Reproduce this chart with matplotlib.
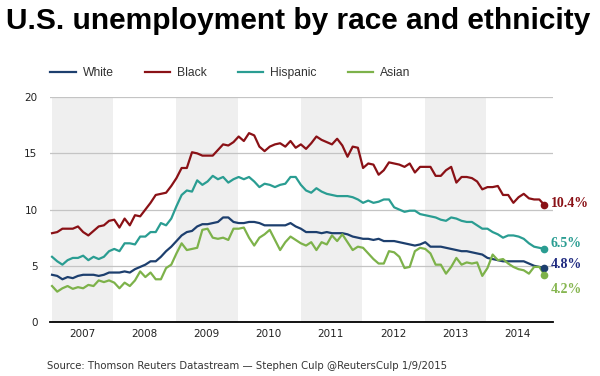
import numpy as np
import matplotlib
matplotlib.use("Agg")
import matplotlib.pyplot as plt

# monthly unemployment rate (%), Jan 2007 - Dec 2014
years = [2007, 2008, 2009, 2010, 2011, 2012, 2013, 2014]

white = [4.2, 4.1, 3.8, 4.0, 3.9, 4.1, 4.2, 4.2, 4.2, 4.1, 4.2, 4.4,
         4.4, 4.4, 4.5, 4.4, 4.7, 4.9, 5.1, 5.4, 5.4, 5.8, 6.3, 6.7,
         7.2, 7.7, 8.0, 8.1, 8.5, 8.7, 8.7, 8.8, 8.9, 9.3, 9.3, 8.9,
         8.8, 8.8, 8.9, 8.9, 8.8, 8.6, 8.6, 8.6, 8.6, 8.6, 8.8, 8.5,
         8.3, 8.0, 8.0, 8.0, 7.9, 8.0, 7.9, 7.9, 7.9, 7.8, 7.6, 7.5,
         7.4, 7.4, 7.3, 7.4, 7.2, 7.2, 7.2, 7.1, 7.0, 6.9, 6.8, 6.9,
         7.1, 6.7, 6.7, 6.7, 6.6, 6.5, 6.4, 6.3, 6.3, 6.2, 6.1, 6.0,
         5.7, 5.6, 5.5, 5.4, 5.4, 5.4, 5.4, 5.4, 5.2, 5.0, 4.9, 4.8]

black = [7.9, 8.0, 8.3, 8.3, 8.3, 8.5, 8.0, 7.7, 8.1, 8.5, 8.6, 9.0,
         9.1, 8.4, 9.2, 8.6, 9.5, 9.4, 10.0, 10.6, 11.3, 11.4, 11.5, 12.1,
         12.8, 13.7, 13.7, 15.1, 15.0, 14.8, 14.8, 14.8, 15.3, 15.8, 15.7, 16.0,
         16.5, 16.1, 16.8, 16.6, 15.6, 15.2, 15.6, 15.8, 15.9, 15.6, 16.1, 15.5,
         15.8, 15.4, 15.9, 16.5, 16.2, 16.0, 15.8, 16.3, 15.7, 14.7, 15.6, 15.5,
         13.7, 14.1, 14.0, 13.1, 13.5, 14.2, 14.1, 14.0, 13.8, 14.1, 13.3, 13.8,
         13.8, 13.8, 13.0, 13.0, 13.5, 13.8, 12.4, 12.9, 12.9, 12.8, 12.5, 11.8,
         12.0, 12.0, 12.1, 11.3, 11.3, 10.6, 11.1, 11.4, 11.0, 10.9, 10.9, 10.4]

hispanic = [5.8, 5.4, 5.1, 5.5, 5.7, 5.7, 5.9, 5.5, 5.8, 5.6, 5.8, 6.3,
            6.5, 6.3, 7.0, 7.0, 6.9, 7.6, 7.6, 8.0, 8.0, 8.8, 8.6, 9.2,
            10.3, 11.3, 11.7, 11.6, 12.6, 12.2, 12.5, 13.0, 12.7, 12.9, 12.4, 12.7,
            12.9, 12.7, 12.9, 12.5, 12.0, 12.3, 12.2, 12.0, 12.2, 12.3, 12.9, 12.9,
            12.2, 11.7, 11.5, 11.9, 11.6, 11.4, 11.3, 11.2, 11.2, 11.2, 11.1, 10.9,
            10.6, 10.8, 10.6, 10.7, 10.9, 10.9, 10.2, 10.0, 9.8, 9.9, 9.9, 9.6,
            9.5, 9.4, 9.3, 9.1, 9.0, 9.3, 9.2, 9.0, 8.9, 8.9, 8.6, 8.3,
            8.3, 8.0, 7.8, 7.5, 7.7, 7.7, 7.6, 7.4, 7.0, 6.7, 6.6, 6.5]

asian = [3.2, 2.7, 3.0, 3.2, 2.95, 3.1, 3.0, 3.3, 3.2, 3.7, 3.55, 3.7,
         3.5, 3.0, 3.5, 3.2, 3.7, 4.5, 4.0, 4.4, 3.8, 3.8, 4.8, 5.1,
         6.1, 7.0, 6.4, 6.5, 6.6, 8.2, 8.3, 7.5, 7.4, 7.5, 7.3, 8.3,
         8.3, 8.4, 7.5, 6.8, 7.5, 7.8, 8.2, 7.3, 6.4, 7.1, 7.6, 7.3,
         7.0, 6.8, 7.1, 6.4, 7.1, 6.9, 7.7, 7.2, 7.8, 7.1, 6.4, 6.7,
         6.6, 6.1, 5.6, 5.2, 5.2, 6.3, 6.2, 5.8, 4.8, 4.9, 6.3, 6.6,
         6.5, 6.1, 5.1, 5.1, 4.3, 4.9, 5.7, 5.1, 5.3, 5.2, 5.3, 4.1,
         4.8, 6.0, 5.5, 5.6, 5.2, 4.9, 4.7, 4.6, 4.3, 4.9, 4.9, 4.2]

series = [
    ("White", white, "#1d3f6e", "#1f2a80", 5.1),
    ("Black", black, "#8a1116", "#8a1116", 10.55),
    ("Hispanic", hispanic, "#2a9d92", "#2a9d92", 6.95),
    ("Asian", asian, "#7db24a", "#86b650", 2.85),
]

months = np.arange(len(white))

fig = plt.figure(figsize=(6, 3.76), dpi=100)
ax = fig.add_axes([0.0833, 0.1436, 0.838, 0.598])

# shaded alternate years
for i, yr in enumerate(years):
    if i % 2 == 0:
        ax.axvspan(12 * i, 12 * i + 11.8, color="#efefef", zorder=0, lw=0)

handles = []
for name, vals, col, lab_col, lab_y in series:
    ln, = ax.plot(months, vals, color=col, lw=1.6, label=name, zorder=3)
    ax.plot(months[-1], vals[-1], "o", color=col, ms=4.5, zorder=4)
    handles.append(ln)
    ax.text(96.2, lab_y, f"{vals[-1]:.1f}%", color=lab_col, fontsize=10,
            fontweight="bold", family="Liberation Serif", va="center",
            ha="left", clip_on=False)

ax.set_xlim(-0.4, 96.6)
ax.set_ylim(0, 20)
ax.set_yticks([0, 5, 10, 15, 20])
ax.yaxis.grid(True, color="#c4c4c4", lw=0.9)
ax.set_axisbelow(True)
ax.set_xticks([])
ax.set_xticks([12 * i + 5.8 for i in range(len(years))], minor=True)
ax.set_xticklabels([str(y) for y in years], minor=True)
ax.tick_params(axis="x", which="minor", length=0, pad=5, labelsize=7.5,
               labelcolor="#222222")
ax.tick_params(axis="y", length=0, pad=9, labelsize=7.5, labelcolor="#222222")
for s in ["top", "right", "left"]:
    ax.spines[s].set_visible(False)
ax.spines["bottom"].set_color("black")
ax.spines["bottom"].set_linewidth(1.3)

fig.legend(handles=handles, loc="center left", bbox_to_anchor=(0.066, 0.806),
           ncol=4, frameon=False, prop={"family": "Liberation Sans", "size": 8.7},
           handlelength=2.1, handletextpad=0.55, columnspacing=2.6,
           labelcolor="#333333")

fig.text(0.01, 0.945, "U.S. unemployment by race and ethnicity",
         fontsize=21.5, fontweight="bold", family="Liberation Sans",
         va="center", ha="left")
fig.text(0.078, 0.027,
         "Source: Thomson Reuters Datastream \u2014 Stephen Culp @ReutersCulp 1/9/2015",
         fontsize=7.3, color="#333333", va="center", ha="left")

fig.savefig("out.png", dpi=100)
